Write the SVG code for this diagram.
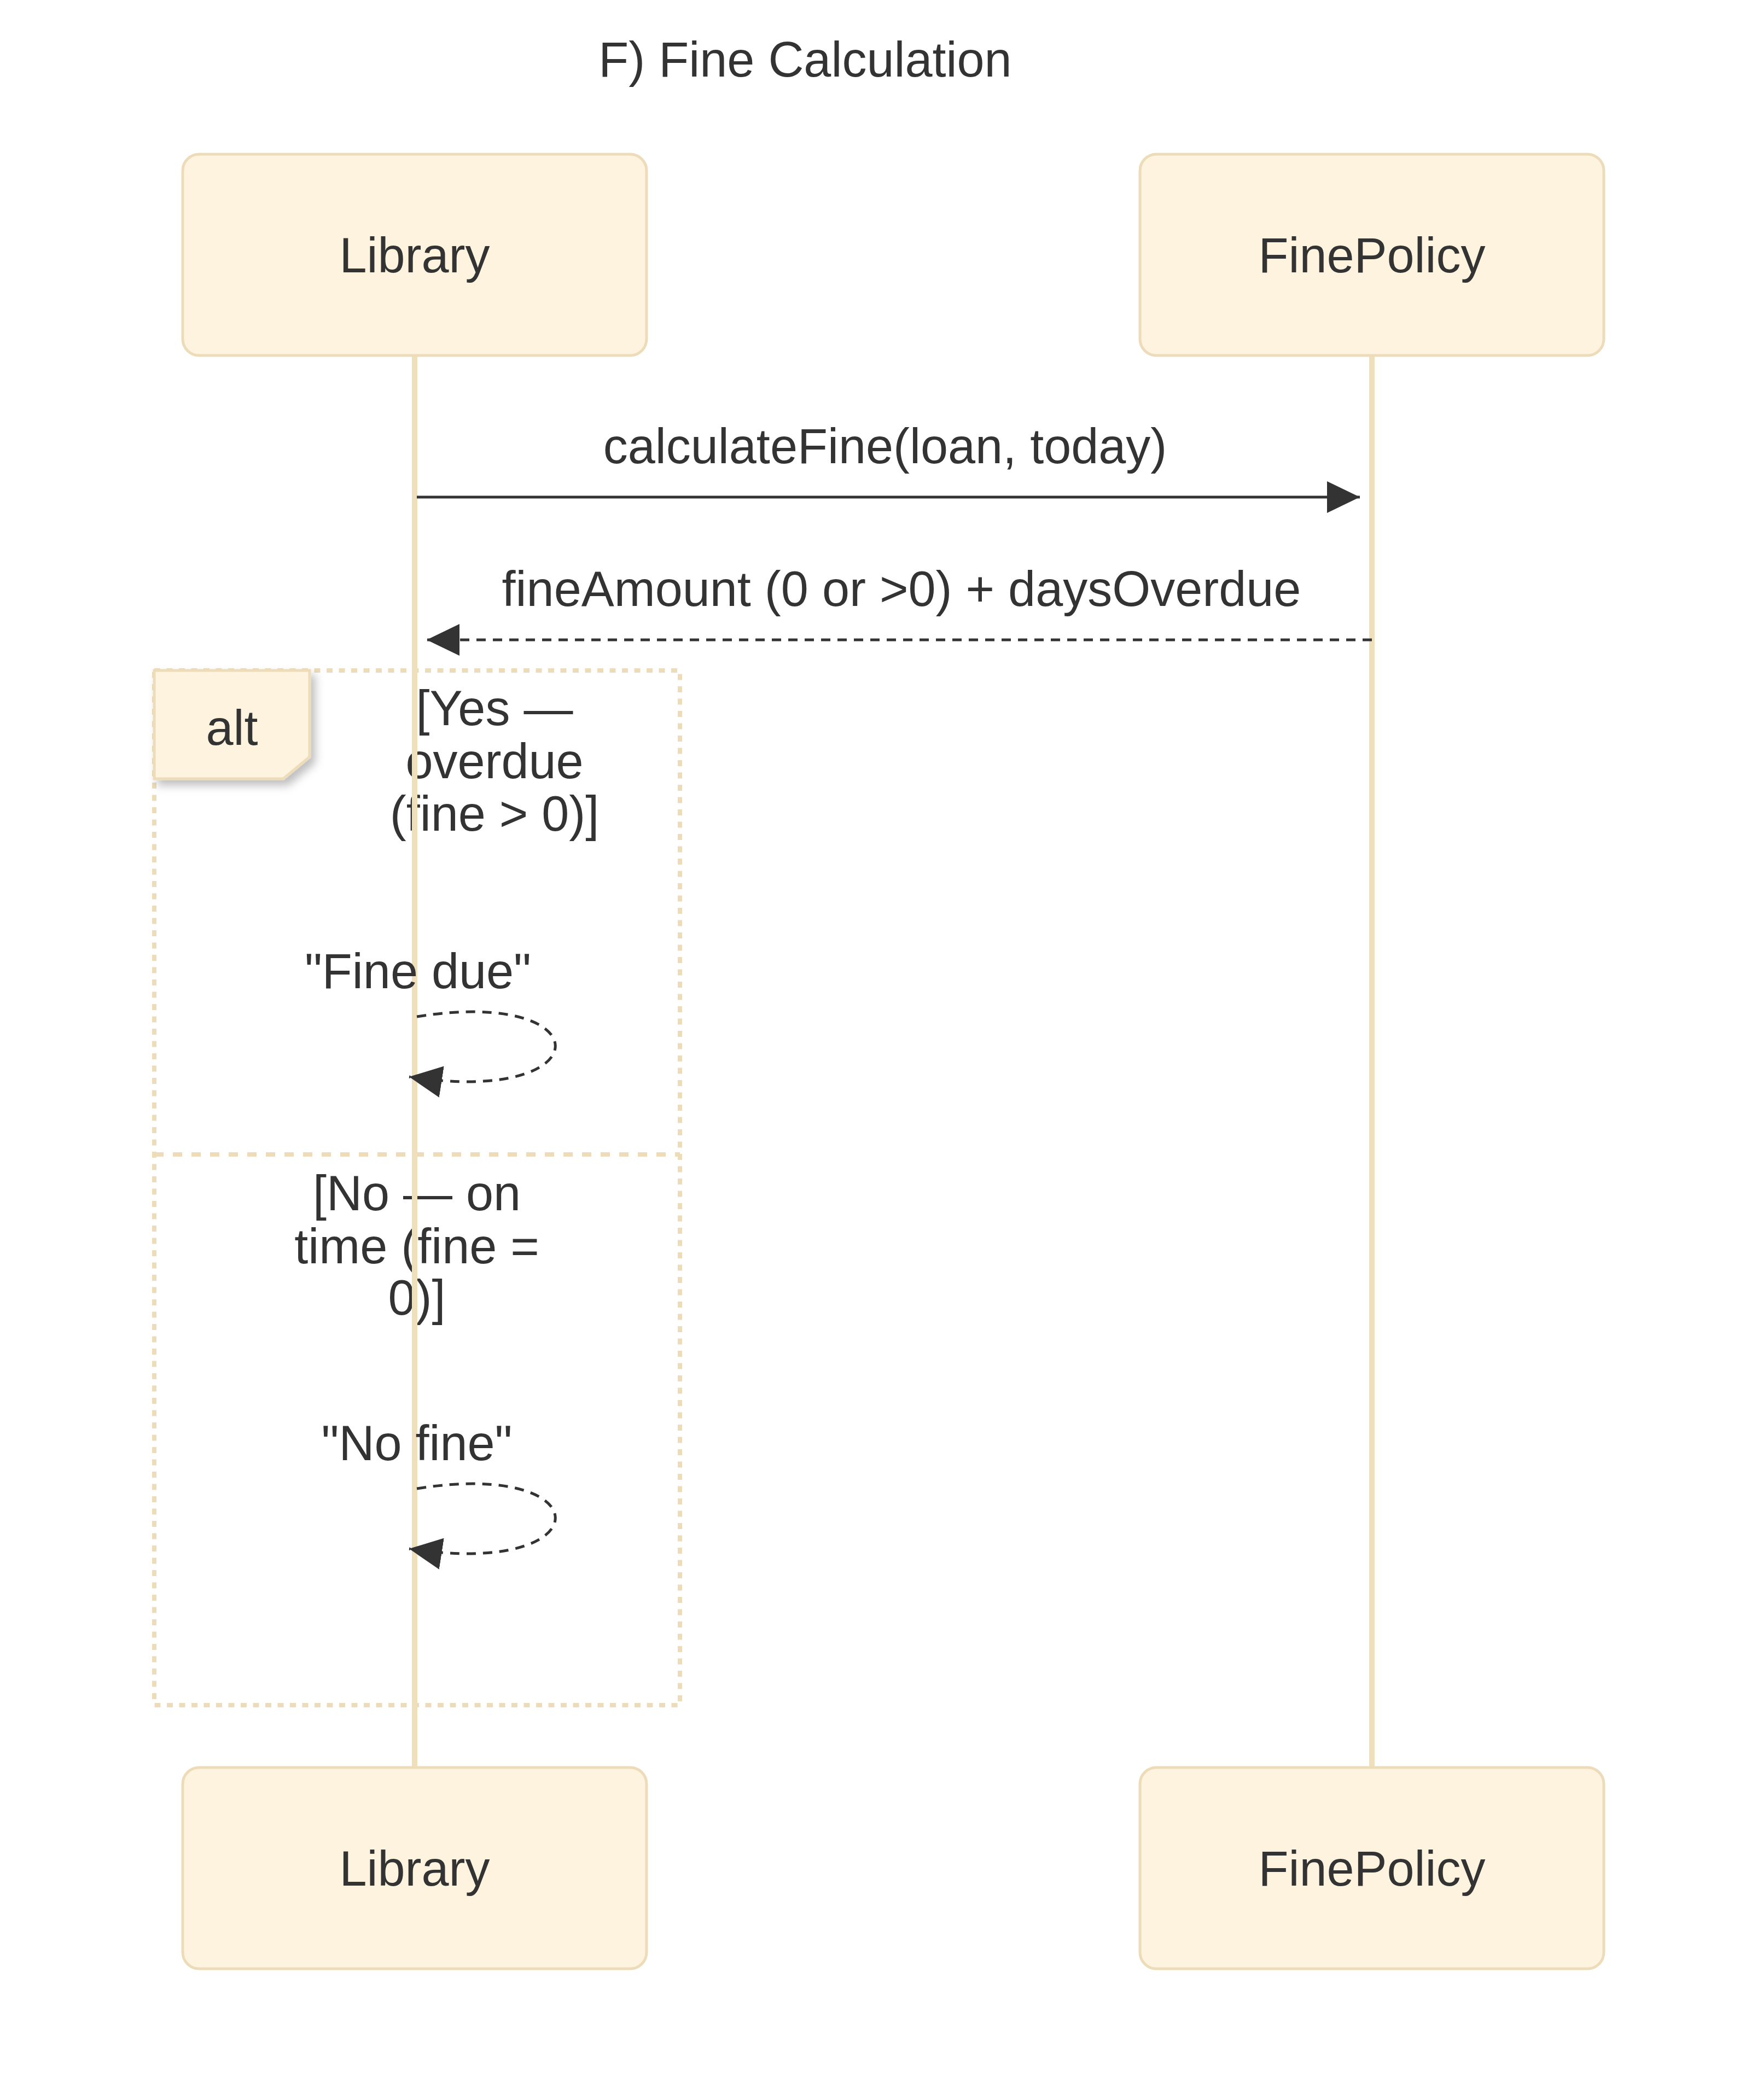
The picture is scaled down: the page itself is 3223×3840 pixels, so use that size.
<svg xmlns="http://www.w3.org/2000/svg" width="3223" height="3840" viewBox="0 0 3223 3840">
<style>
text{font-family:"Liberation Sans",Arial,sans-serif;fill:#333333;font-size:90px;text-anchor:middle}
.actor{fill:#fdf3de;stroke:#eddcb9;stroke-width:5}
.life{stroke:#efdfbb;stroke-width:10;fill:none}
.loop{stroke:#eddcb9;stroke-width:8;fill:none;stroke-dasharray:11 11.5}
.sep{stroke:#eddcb9;stroke-width:8;fill:none;stroke-dasharray:17 17}
.msg{stroke:#333333;stroke-width:5;fill:none}
.dash{stroke-dasharray:17 13}
</style>
<defs>
<marker id="arrow" markerUnits="userSpaceOnUse" viewBox="0 0 60 58" refX="60" refY="29" markerWidth="60" markerHeight="58" orient="auto">
<path d="M0,0 L60,29 L0,58 z" fill="#333333"/>
</marker>
<filter id="shadow" x="-20%" y="-20%" width="150%" height="160%">
<feDropShadow dx="8" dy="10" stdDeviation="8" flood-color="#000000" flood-opacity="0.25"/>
</filter>
</defs>
<rect width="3223" height="3840" fill="#ffffff"/>
<text x="1472" y="140" font-size="89">F) Fine Calculation</text>

<g id="alt-frame">
<rect class="loop" x="282" y="1226" width="961" height="1892"/>
<line class="sep" x1="282" y1="2111" x2="1243" y2="2111"/>
<polygon points="282,1226 566,1226 566,1384 518,1424 282,1424" fill="#fdf3de" stroke="#eddcb9" stroke-width="5" filter="url(#shadow)"/>
<text x="424" y="1362">alt</text>
<text x="904" y="1326">[Yes —</text>
<text x="904" y="1423">overdue</text>
<text x="904" y="1519">(fine &gt; 0)]</text>
<text x="762" y="2213">[No — on</text>
<text x="762" y="2310">time (fine =</text>
<text x="762" y="2404">0)]</text>
</g>

<g id="participant-Library">
<rect class="actor" x="334" y="282" width="848" height="368" rx="30" ry="30"/>
<text x="758" y="498">Library</text>
<rect class="actor" x="334" y="3232" width="848" height="368" rx="30" ry="30"/>
<text x="758" y="3448">Library</text>
</g>
<g id="participant-FinePolicy">
<rect class="actor" x="2084" y="282" width="848" height="368" rx="30" ry="30"/>
<text x="2508" y="498">FinePolicy</text>
<rect class="actor" x="2084" y="3232" width="848" height="368" rx="30" ry="30"/>
<text x="2508" y="3448">FinePolicy</text>
</g>

<g id="lifelines">
<line class="life" x1="758" y1="652" x2="758" y2="3230"/>
<line class="life" x1="2508" y1="652" x2="2508" y2="3230"/>
</g>

<g id="connectors">
<line class="msg" x1="762" y1="909" x2="2486" y2="909" marker-end="url(#arrow)"/>
<text x="1618" y="847">calculateFine(loan, today)</text>
<line class="msg dash" x1="2508" y1="1170" x2="780" y2="1170" marker-end="url(#arrow)"/>
<text x="1648" y="1108">fineAmount (0 or &gt;0) + daysOverdue</text>
<path class="msg dash" d="M762,1859 C1102,1804 1102,2024 748,1969" marker-end="url(#arrow)"/>
<text x="764" y="1807">"Fine due"</text>
<path class="msg dash" d="M762,2722 C1102,2667 1102,2887 748,2832" marker-end="url(#arrow)"/>
<text x="762" y="2670">"No fine"</text>
</g>
</svg>
